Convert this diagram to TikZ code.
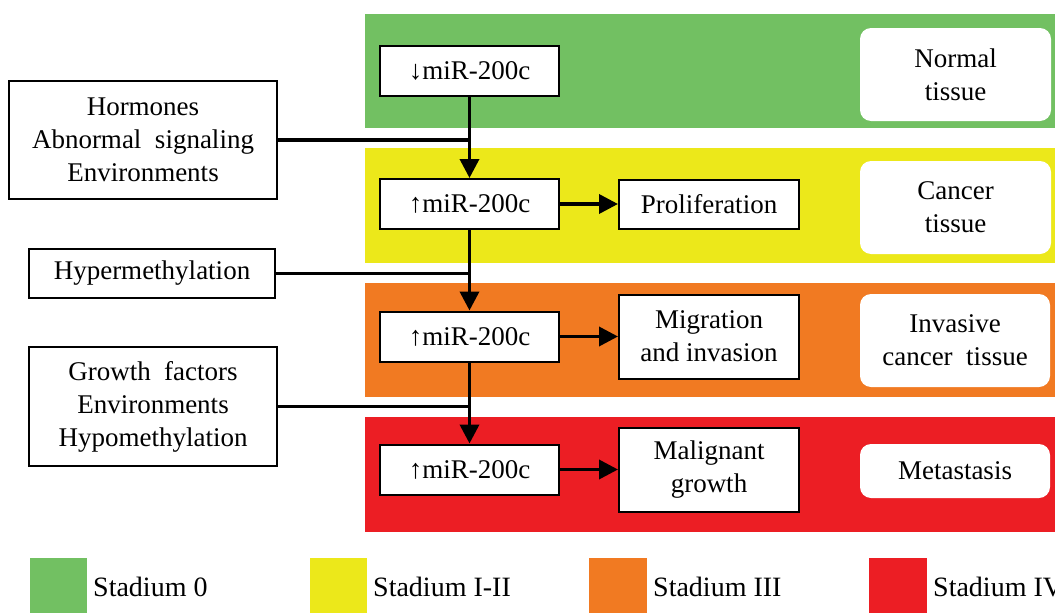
\documentclass[tikz,border=0pt]{standalone}
\usepackage{fontspec}
\setmainfont{Liberation Serif}
\usetikzlibrary{arrows.meta}
\definecolor{bgreen}{RGB}{114,192,98}
\definecolor{byellow}{RGB}{236,232,26}
\definecolor{borange}{RGB}{241,122,34}
\definecolor{bred}{RGB}{236,30,36}
\begin{document}
\begin{tikzpicture}[x=1pt,y=-1pt,
  every node/.style={font=\fontsize{27}{33}\selectfont, inner sep=0pt, align=center},
  box/.style={draw=black, line width=2pt, fill=white},
  tag/.style={fill=white, rounded corners=11pt},
  conn/.style={line width=3.6pt, black},
  arr/.style={conn, -{Triangle[length=19pt,width=19pt]}},
  lgd/.style={anchor=west, font=\fontsize{28}{33}\selectfont}]
\useasboundingbox (0,0) rectangle (1055,613);
\clip (0,0) rectangle (1055,613);
% bands
\fill[bgreen] (365,14) rectangle (1055,128);
\fill[byellow] (365,148) rectangle (1055,263);
\fill[borange] (365,283) rectangle (1055,397);
\fill[bred] (365,417) rectangle (1055,532);
% miR boxes
\node[box, minimum width=179pt, minimum height=50pt] (m1) at (469.5,70.5) {↓miR-200c};
\node[box, minimum width=179pt, minimum height=50pt] (m2) at (469.5,204) {↑miR-200c};
\node[box, minimum width=179pt, minimum height=50pt] (m3) at (469.5,336.5) {↑miR-200c};
\node[box, minimum width=179pt, minimum height=50pt] (m4) at (469.5,469.5) {↑miR-200c};
% effect boxes
\node[box, minimum width=180pt, minimum height=49pt] (p) at (709,204) {Proliferation};
\node[box, minimum width=180pt, minimum height=84pt] (mi) at (709,336.5) {Migration\\and invasion};
\node[box, minimum width=180pt, minimum height=84pt] (mg) at (709,469.5) {Malignant\\growth};
% left boxes
\node[box, minimum width=268pt, minimum height=118pt] (h) at (143,140) {Hormones\\Abnormal\ \ signaling\\Environments};
\node[box, minimum width=246pt, minimum height=49pt] (hy) at (152,273.5) {Hypermethylation};
\node[box, minimum width=248pt, minimum height=119pt] (g) at (153,406.5) {Growth\ \ factors\\Environments\\Hypomethylation};
% right tags
\node[tag, minimum width=191pt, minimum height=93pt] (t1) at (955.5,74.5) {Normal\\tissue};
\node[tag, minimum width=191pt, minimum height=93pt] (t2) at (955.5,207.5) {Cancer\\tissue};
\node[tag, minimum width=190pt, minimum height=93pt] (t3) at (955,340.5) {Invasive\\cancer\ \ tissue};
\node[tag, minimum width=190pt, minimum height=54pt] (t4) at (955,471) {Metastasis};
% junctions
\coordinate (j1) at (m1.south |- h.east);
\coordinate (j2) at (m2.south |- hy.east);
\coordinate (j3) at (m3.south |- g.east);
% connectors
\draw[conn] (h.east) -- (j1);
\draw[conn] (hy.east) -- (j2);
\draw[conn] (g.east) -- (j3);
\draw[arr] (m1.south) -- (m2.north);
\draw[arr] (m2.south) -- (m3.north);
\draw[arr] (m3.south) -- (m4.north);
\draw[arr] (m2.east) -- (p.west);
\draw[arr] (m3.east) -- (mi.west);
\draw[arr] (m4.east) -- (mg.west);
% legend
\fill[bgreen] (30,558) rectangle (87,613);
\fill[byellow] (310,558) rectangle (367,613);
\fill[borange] (589,558) rectangle (647,613);
\fill[bred] (869,558) rectangle (927,613);
\node[lgd] (l1) at (93,587) {Stadium 0};
\node[lgd] (l2) at (373,587) {Stadium I-II};
\node[lgd] (l3) at (653,587) {Stadium III};
\node[lgd] (l4) at (933,587) {Stadium IV};
\end{tikzpicture}
\end{document}
